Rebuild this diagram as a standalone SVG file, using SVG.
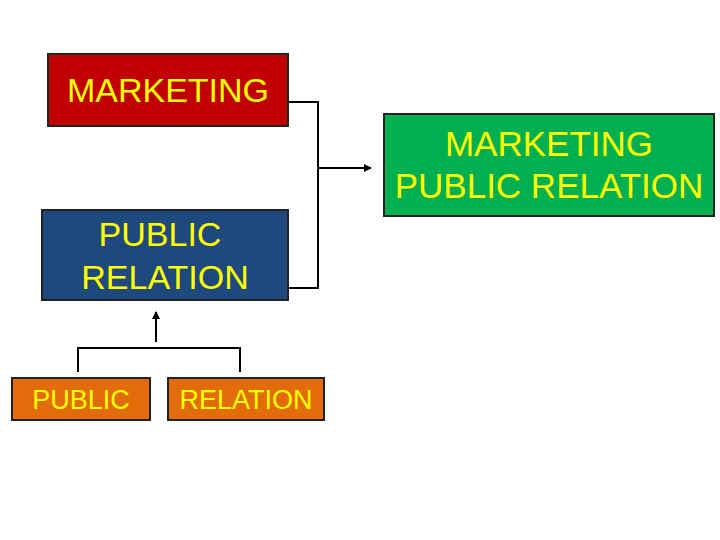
<svg xmlns="http://www.w3.org/2000/svg" width="720" height="540" viewBox="0 0 720 540">
<style>
.box{stroke:#222;stroke-width:2}
.t{font-family:"Liberation Sans",Arial,sans-serif;fill:#FFFF00;text-anchor:middle}
.c{fill:none;stroke:#000;stroke-width:2}
</style>
<defs><marker id="ah" markerWidth="8" markerHeight="8" refX="7" refY="4" orient="auto" markerUnits="userSpaceOnUse"><path d="M0,0 L8,4 L0,8 z" fill="#000"/></marker></defs>
<rect width="720" height="540" fill="#fff"/>
<g id="connectors">
<polyline class="c" points="288,102 318,102 318,288 288,288"/>
<line class="c" x1="318" y1="168" x2="371" y2="168" marker-end="url(#ah)"/>
<polyline class="c" points="78,372 78,348 240,348 240,372"/>
<line class="c" x1="156" y1="342" x2="156" y2="312" marker-end="url(#ah)"/>
</g>
<g id="marketing"><rect class="box" x="48" y="54" width="240" height="72" fill="#C00000"/><text class="t" x="168" y="102" font-size="34">MARKETING</text></g>
<g id="mpr"><rect class="box" x="384" y="114" width="330" height="102" fill="#00B050"/><text class="t" x="549" y="156" font-size="35">MARKETING</text><text class="t" x="549" y="198" font-size="35">PUBLIC RELATION</text></g>
<g id="pr"><rect class="box" x="42" y="210" width="246" height="90" fill="#1F497D"/><text class="t" x="160" y="246" font-size="34">PUBLIC</text><text class="t" x="165" y="289" font-size="34">RELATION</text></g>
<g id="public"><rect class="box" x="12" y="378" width="138" height="42" fill="#E36C0A"/><text class="t" x="81" y="409" font-size="27">PUBLIC</text></g>
<g id="relation"><rect class="box" x="168" y="378" width="156" height="42" fill="#E36C0A"/><text class="t" x="246" y="409" font-size="27">RELATION</text></g>
</svg>
